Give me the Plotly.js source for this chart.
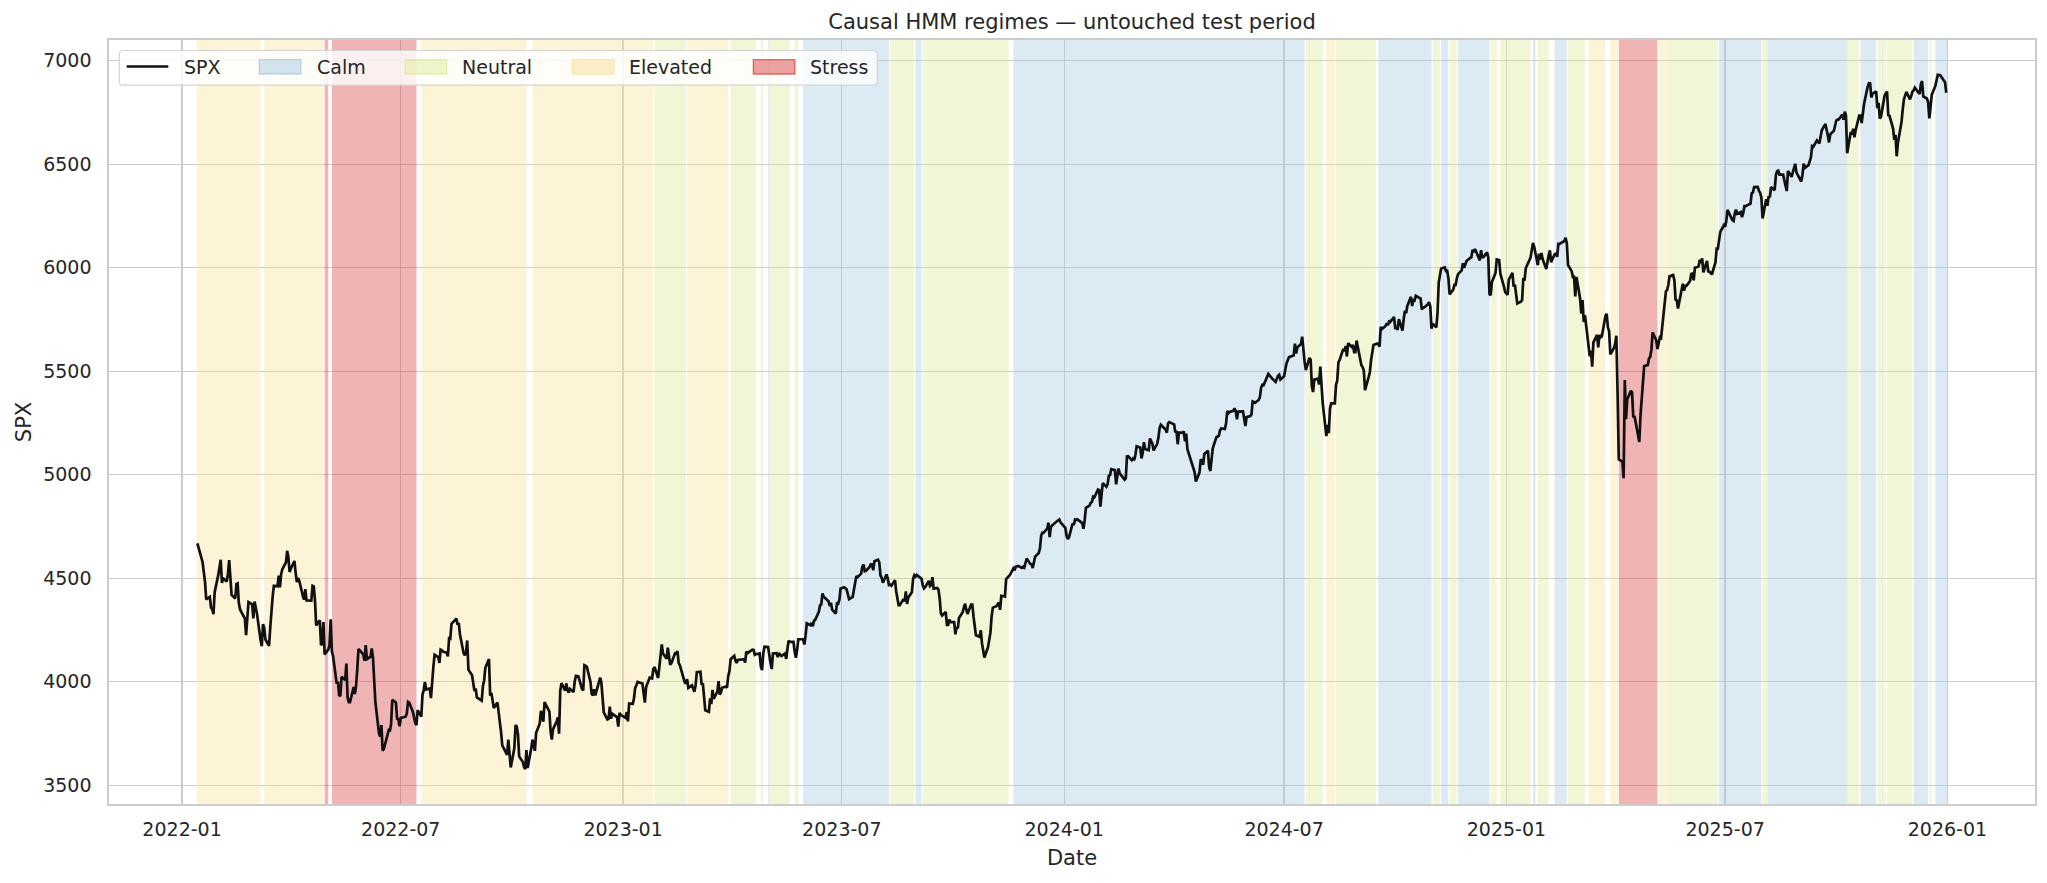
<!DOCTYPE html>
<html><head><meta charset="utf-8">
<script src="https://cdn.plot.ly/plotly-3.0.1.min.js"></script>
<style>html,body{margin:0;padding:0;background:#fff;}#chart{width:2047px;height:883px;}</style>
</head><body><div id="chart"></div>
<script>
// SPX closes, [MM-DD, value] per year
const spx2022 = [['01-13',4659],['01-14',4662],['01-18',4577],['01-19',4533],['01-20',4483],['01-21',4398],['01-24',4410],['01-25',4357],['01-26',4350],['01-27',4326],['01-28',4432],['01-31',4516],['02-01',4546],['02-02',4589],['02-03',4477],['02-04',4500],['02-07',4484],['02-08',4522],['02-09',4587],['02-10',4504],['02-11',4419],['02-14',4402],['02-15',4472],['02-16',4475],['02-17',4380],['02-18',4349],['02-22',4305],['02-23',4225],['02-24',4288],['02-25',4385],['02-28',4374],['03-01',4306],['03-02',4387],['03-03',4364],['03-04',4329],['03-07',4201],['03-08',4171],['03-09',4278],['03-10',4260],['03-11',4204],['03-14',4173],['03-15',4262],['03-16',4358],['03-17',4412],['03-18',4463],['03-21',4461],['03-22',4512],['03-23',4456],['03-24',4520],['03-25',4543],['03-28',4576],['03-29',4632],['03-30',4602],['03-31',4530],['04-01',4546],['04-04',4583],['04-05',4526],['04-06',4481],['04-07',4501],['04-08',4488],['04-11',4413],['04-12',4397],['04-13',4447],['04-14',4393],['04-18',4392],['04-19',4463],['04-20',4460],['04-21',4394],['04-22',4272],['04-25',4297],['04-26',4176],['04-27',4184],['04-28',4288],['04-29',4132],['05-02',4155],['05-03',4175],['05-04',4301],['05-05',4147],['05-06',4123],['05-09',3991],['05-10',4001],['05-11',3935],['05-12',3930],['05-13',4024],['05-16',4008],['05-17',4088],['05-18',3924],['05-19',3901],['05-20',3901],['05-23',3974],['05-24',3941],['05-25',3979],['05-26',4058],['05-27',4158],['05-31',4132],['06-01',4101],['06-02',4177],['06-03',4109],['06-06',4121],['06-07',4161],['06-08',4116],['06-09',4018],['06-10',3901],['06-13',3750],['06-14',3735],['06-15',3790],['06-16',3667],['06-17',3675],['06-21',3765],['06-22',3760],['06-23',3796],['06-24',3912],['06-27',3900],['06-28',3821],['06-29',3819],['06-30',3785],['07-01',3825],['07-05',3831],['07-06',3845],['07-07',3903],['07-08',3899],['07-11',3855],['07-12',3819],['07-13',3802],['07-14',3790],['07-15',3863],['07-18',3831],['07-19',3937],['07-20',3960],['07-21',3999],['07-22',3962],['07-25',3967],['07-26',3921],['07-27',4024],['07-28',4073],['07-29',4130],['08-01',4119],['08-02',4091],['08-03',4155],['08-04',4152],['08-05',4145],['08-08',4140],['08-09',4122],['08-10',4210],['08-11',4208],['08-12',4280],['08-15',4297],['08-16',4305],['08-17',4275],['08-18',4284],['08-19',4228],['08-22',4138],['08-23',4128],['08-24',4141],['08-25',4199],['08-26',4058],['08-29',4031],['08-30',3986],['08-31',3955],['09-01',3967],['09-02',3924],['09-06',3909],['09-07',3980],['09-08',4006],['09-09',4067],['09-12',4110],['09-13',3932],['09-14',3946],['09-15',3901],['09-16',3873],['09-19',3900],['09-20',3856],['09-21',3790],['09-22',3758],['09-23',3693],['09-26',3655],['09-27',3647],['09-28',3720],['09-29',3640],['09-30',3586],['10-03',3678],['10-04',3791],['10-05',3783],['10-06',3745],['10-07',3639],['10-10',3612],['10-11',3589],['10-12',3577],['10-13',3670],['10-14',3583],['10-17',3678],['10-18',3720],['10-19',3695],['10-20',3666],['10-21',3752],['10-24',3797],['10-25',3859],['10-26',3831],['10-27',3807],['10-28',3901],['10-31',3872],['11-01',3856],['11-02',3760],['11-03',3720],['11-04',3771],['11-07',3807],['11-08',3828],['11-09',3749],['11-10',3956],['11-11',3993],['11-14',3957],['11-15',3992],['11-16',3959],['11-17',3947],['11-18',3965],['11-21',3950],['11-22',4003],['11-23',4028],['11-25',4026],['11-28',3964],['11-29',3958],['11-30',4080],['12-01',4077],['12-02',4072],['12-05',3999],['12-06',3941],['12-07',3933],['12-08',3964],['12-09',3934],['12-12',3991],['12-13',4020],['12-14',3996],['12-15',3896],['12-16',3852],['12-19',3818],['12-20',3821],['12-21',3879],['12-22',3822],['12-23',3845],['12-27',3829],['12-28',3783],['12-29',3849],['12-30',3840]];
const spx2023 = [['01-03',3825],['01-04',3853],['01-05',3808],['01-06',3895],['01-09',3893],['01-10',3919],['01-11',3970],['01-12',3983],['01-13',3999],['01-17',3991],['01-18',3929],['01-19',3899],['01-20',3973],['01-23',4020],['01-24',4017],['01-25',4016],['01-26',4060],['01-27',4071],['01-30',4018],['01-31',4077],['02-01',4119],['02-02',4180],['02-03',4136],['02-06',4111],['02-07',4164],['02-08',4118],['02-09',4082],['02-10',4090],['02-13',4137],['02-14',4136],['02-15',4148],['02-16',4090],['02-17',4079],['02-21',3997],['02-22',3991],['02-23',4012],['02-24',3970],['02-27',3982],['02-28',3970],['03-01',3951],['03-02',3982],['03-03',4046],['03-06',4048],['03-07',3986],['03-08',3992],['03-09',3919],['03-10',3862],['03-13',3855],['03-14',3920],['03-15',3892],['03-16',3960],['03-17',3917],['03-20',3952],['03-21',4003],['03-22',3937],['03-23',3949],['03-24',3971],['03-27',3977],['03-28',3971],['03-29',4027],['03-30',4051],['03-31',4109],['04-03',4125],['04-04',4101],['04-05',4091],['04-06',4105],['04-10',4110],['04-11',4109],['04-12',4092],['04-13',4146],['04-14',4138],['04-17',4152],['04-18',4155],['04-19',4154],['04-20',4130],['04-21',4133],['04-24',4137],['04-25',4072],['04-26',4056],['04-27',4136],['04-28',4169],['05-01',4168],['05-02',4120],['05-03',4091],['05-04',4061],['05-05',4136],['05-08',4138],['05-09',4119],['05-10',4138],['05-11',4131],['05-12',4124],['05-15',4136],['05-16',4110],['05-17',4159],['05-18',4198],['05-19',4192],['05-22',4192],['05-23',4146],['05-24',4116],['05-25',4151],['05-26',4205],['05-30',4206],['05-31',4180],['06-01',4221],['06-02',4282],['06-05',4273],['06-06',4284],['06-07',4268],['06-08',4294],['06-09',4299],['06-12',4338],['06-13',4369],['06-14',4373],['06-15',4426],['06-16',4410],['06-20',4389],['06-21',4366],['06-22',4381],['06-23',4348],['06-26',4329],['06-27',4378],['06-28',4377],['06-29',4396],['06-30',4450],['07-03',4456],['07-05',4446],['07-06',4412],['07-07',4399],['07-10',4410],['07-11',4439],['07-12',4472],['07-13',4510],['07-14',4505],['07-17',4522],['07-18',4555],['07-19',4566],['07-20',4534],['07-21',4536],['07-24',4554],['07-25',4567],['07-26',4566],['07-27',4538],['07-28',4582],['07-31',4589],['08-01',4577],['08-02',4513],['08-03',4502],['08-04',4478],['08-07',4518],['08-08',4499],['08-09',4467],['08-10',4469],['08-11',4464],['08-14',4490],['08-15',4437],['08-16',4404],['08-17',4370],['08-18',4370],['08-21',4399],['08-22',4388],['08-23',4436],['08-24',4376],['08-25',4406],['08-28',4433],['08-29',4497],['08-30',4514],['08-31',4508],['09-01',4516],['09-05',4497],['09-06',4465],['09-07',4451],['09-08',4457],['09-11',4487],['09-12',4462],['09-13',4467],['09-14',4505],['09-15',4450],['09-18',4453],['09-19',4444],['09-20',4402],['09-21',4330],['09-22',4320],['09-25',4337],['09-26',4274],['09-27',4274],['09-28',4300],['09-29',4288],['10-02',4288],['10-03',4229],['10-04',4263],['10-05',4258],['10-06',4308],['10-09',4336],['10-10',4358],['10-11',4377],['10-12',4349],['10-13',4327],['10-16',4373],['10-17',4373],['10-18',4315],['10-19',4278],['10-20',4224],['10-23',4217],['10-24',4248],['10-25',4186],['10-26',4137],['10-27',4117],['10-30',4167],['10-31',4194],['11-01',4238],['11-02',4317],['11-03',4358],['11-06',4365],['11-07',4378],['11-08',4383],['11-09',4347],['11-10',4415],['11-13',4411],['11-14',4496],['11-15',4502],['11-16',4508],['11-17',4514],['11-20',4547],['11-21',4538],['11-22',4556],['11-24',4559],['11-27',4550],['11-28',4555],['11-29',4551],['11-30',4568],['12-01',4595],['12-04',4569],['12-05',4567],['12-06',4549],['12-07',4585],['12-08',4604],['12-11',4622],['12-12',4644],['12-13',4707],['12-14',4720],['12-15',4719],['12-18',4740],['12-19',4768],['12-20',4698],['12-21',4747],['12-22',4755],['12-26',4775],['12-27',4781],['12-28',4783],['12-29',4770]];
const spx2024 = [['01-02',4743],['01-03',4705],['01-04',4689],['01-05',4697],['01-08',4764],['01-09',4757],['01-10',4783],['01-11',4781],['01-12',4784],['01-16',4766],['01-17',4739],['01-18',4780],['01-19',4840],['01-22',4851],['01-23',4865],['01-24',4869],['01-25',4894],['01-26',4891],['01-29',4928],['01-30',4925],['01-31',4846],['02-01',4906],['02-02',4959],['02-05',4942],['02-06',4954],['02-07',4995],['02-08',4998],['02-09',5027],['02-12',5022],['02-13',4953],['02-14',5001],['02-15',5030],['02-16',5006],['02-20',4976],['02-21',4982],['02-22',5088],['02-23',5089],['02-26',5070],['02-27',5078],['02-28',5070],['02-29',5096],['03-01',5137],['03-04',5131],['03-05',5079],['03-06',5105],['03-07',5157],['03-08',5124],['03-11',5118],['03-12',5175],['03-13',5165],['03-14',5150],['03-15',5117],['03-18',5149],['03-19',5178],['03-20',5225],['03-21',5241],['03-22',5234],['03-25',5218],['03-26',5203],['03-27',5248],['03-28',5254],['04-01',5243],['04-02',5205],['04-03',5211],['04-04',5147],['04-05',5204],['04-08',5202],['04-09',5209],['04-10',5161],['04-11',5199],['04-12',5123],['04-15',5061],['04-16',5051],['04-17',5022],['04-18',5011],['04-19',4967],['04-22',5010],['04-23',5070],['04-24',5071],['04-25',5048],['04-26',5100],['04-29',5116],['04-30',5036],['05-01',5018],['05-02',5064],['05-03',5128],['05-06',5181],['05-07',5187],['05-08',5188],['05-09',5214],['05-10',5223],['05-13',5221],['05-14',5247],['05-15',5308],['05-16',5297],['05-17',5303],['05-20',5308],['05-21',5321],['05-22',5307],['05-23',5268],['05-24',5305],['05-28',5306],['05-29',5267],['05-30',5235],['05-31',5278],['06-03',5283],['06-04',5291],['06-05',5354],['06-06',5352],['06-07',5347],['06-10',5361],['06-11',5375],['06-12',5421],['06-13',5434],['06-14',5432],['06-17',5473],['06-18',5487],['06-20',5473],['06-21',5465],['06-24',5448],['06-25',5469],['06-26',5478],['06-27',5483],['06-28',5460],['07-01',5475],['07-02',5509],['07-03',5537],['07-05',5567],['07-08',5572],['07-09',5577],['07-10',5633],['07-11',5585],['07-12',5615],['07-15',5631],['07-16',5667],['07-17',5589],['07-18',5545],['07-19',5505],['07-22',5564],['07-23',5555],['07-24',5427],['07-25',5399],['07-26',5459],['07-29',5464],['07-30',5436],['07-31',5522],['08-01',5446],['08-02',5346],['08-05',5186],['08-06',5240],['08-07',5200],['08-08',5319],['08-09',5344],['08-12',5344],['08-13',5434],['08-14',5455],['08-15',5543],['08-16',5554],['08-19',5608],['08-20',5597],['08-21',5621],['08-22',5571],['08-23',5635],['08-26',5617],['08-27',5626],['08-28',5592],['08-29',5592],['08-30',5648],['09-03',5529],['09-04',5520],['09-05',5503],['09-06',5408],['09-09',5471],['09-10',5496],['09-11',5554],['09-12',5596],['09-13',5626],['09-16',5633],['09-17',5634],['09-18',5618],['09-19',5714],['09-20',5703],['09-23',5718],['09-24',5732],['09-25',5722],['09-26',5745],['09-27',5738],['09-30',5762],['10-01',5709],['10-02',5710],['10-03',5700],['10-04',5751],['10-07',5696],['10-08',5751],['10-09',5792],['10-10',5780],['10-11',5815],['10-14',5859],['10-15',5815],['10-16',5843],['10-17',5841],['10-18',5864],['10-21',5853],['10-22',5851],['10-23',5797],['10-24',5809],['10-25',5808],['10-28',5823],['10-29',5833],['10-30',5813],['10-31',5705],['11-01',5729],['11-04',5712],['11-05',5782],['11-06',5929],['11-07',5973],['11-08',5996],['11-11',6001],['11-12',5984],['11-13',5985],['11-14',5949],['11-15',5871],['11-18',5894],['11-19',5917],['11-20',5917],['11-21',5949],['11-22',5969],['11-25',5987],['11-26',6021],['11-27',5999],['11-29',6032],['12-02',6047],['12-03',6050],['12-04',6087],['12-05',6075],['12-06',6090],['12-09',6053],['12-10',6035],['12-11',6084],['12-12',6051],['12-13',6051],['12-16',6074],['12-17',6050],['12-18',5872],['12-19',5867],['12-20',5931],['12-23',5975],['12-24',6040],['12-26',6037],['12-27',5971],['12-30',5907],['12-31',5882]];
const spx2025 = [['01-02',5869],['01-03',5942],['01-06',5975],['01-07',5909],['01-08',5918],['01-10',5827],['01-13',5836],['01-14',5843],['01-15',5950],['01-16',5937],['01-17',5997],['01-21',6049],['01-22',6086],['01-23',6119],['01-24',6101],['01-27',6012],['01-28',6068],['01-29',6039],['01-30',6071],['01-31',6041],['02-03',5994],['02-04',6038],['02-05',6061],['02-06',6084],['02-07',6026],['02-10',6066],['02-11',6068],['02-12',6052],['02-13',6115],['02-14',6115],['02-18',6129],['02-19',6144],['02-20',6118],['02-21',6013],['02-24',5983],['02-25',5955],['02-26',5956],['02-27',5861],['02-28',5955],['03-03',5850],['03-04',5778],['03-05',5843],['03-06',5738],['03-07',5770],['03-10',5615],['03-11',5572],['03-12',5599],['03-13',5522],['03-14',5639],['03-17',5675],['03-18',5615],['03-19',5675],['03-20',5663],['03-21',5668],['03-24',5768],['03-25',5777],['03-26',5712],['03-27',5693],['03-28',5581],['03-31',5612],['04-01',5633],['04-02',5671],['04-03',5397],['04-04',5074],['04-07',5062],['04-08',4983],['04-09',5457],['04-10',5268],['04-11',5363],['04-14',5406],['04-15',5397],['04-16',5276],['04-17',5283],['04-21',5158],['04-22',5288],['04-23',5376],['04-24',5485],['04-25',5525],['04-28',5529],['04-29',5561],['04-30',5569],['05-01',5604],['05-02',5687],['05-05',5650],['05-06',5607],['05-07',5631],['05-08',5664],['05-09',5660],['05-12',5844],['05-13',5886],['05-14',5892],['05-15',5916],['05-16',5958],['05-19',5964],['05-20',5940],['05-21',5845],['05-22',5842],['05-23',5803],['05-27',5922],['05-28',5889],['05-29',5912],['05-30',5912],['06-02',5936],['06-03',5970],['06-04',5971],['06-05',5939],['06-06',6000],['06-09',6006],['06-10',6038],['06-11',6022],['06-12',6045],['06-13',5977],['06-16',6033],['06-17',5982],['06-18',5981],['06-20',5967],['06-23',6025],['06-24',6092],['06-25',6092],['06-26',6141],['06-27',6173],['06-30',6205],['07-01',6198],['07-02',6227],['07-03',6279],['07-07',6230],['07-08',6226],['07-09',6263],['07-10',6280],['07-11',6260],['07-14',6269],['07-15',6244],['07-16',6264],['07-17',6297],['07-18',6297],['07-21',6306],['07-22',6309],['07-23',6359],['07-24',6363],['07-25',6389],['07-28',6390],['07-29',6371],['07-30',6362],['07-31',6339],['08-01',6238],['08-04',6330],['08-05',6299],['08-06',6345],['08-07',6340],['08-08',6389],['08-11',6374],['08-12',6446],['08-13',6466],['08-14',6469],['08-15',6449],['08-18',6449],['08-19',6412],['08-20',6396],['08-21',6370],['08-22',6467],['08-25',6439],['08-26',6466],['08-27',6481],['08-28',6502],['08-29',6460],['09-02',6416],['09-03',6448],['09-04',6502],['09-05',6482],['09-08',6495],['09-09',6512],['09-10',6532],['09-11',6587],['09-12',6584],['09-15',6615],['09-16',6607],['09-17',6600],['09-18',6632],['09-19',6664],['09-22',6694],['09-23',6656],['09-24',6638],['09-25',6605],['09-26',6644],['09-29',6661],['09-30',6688],['10-01',6711],['10-02',6715],['10-03',6716],['10-06',6740],['10-07',6715],['10-08',6753],['10-09',6735],['10-10',6553],['10-13',6655],['10-14',6644],['10-15',6671],['10-16',6630],['10-17',6664],['10-20',6735],['10-21',6735],['10-22',6699],['10-23',6738],['10-24',6792],['10-27',6875],['10-28',6891],['10-29',6890],['10-30',6822],['10-31',6840],['11-03',6852],['11-04',6771],['11-05',6796],['11-06',6720],['11-07',6729],['11-10',6832],['11-11',6846],['11-12',6851],['11-13',6737],['11-14',6734],['11-17',6672],['11-18',6617],['11-19',6642],['11-20',6538],['11-21',6603],['11-24',6705],['11-25',6766],['11-26',6813],['11-28',6849],['12-01',6813],['12-02',6829],['12-03',6850],['12-04',6857],['12-05',6870],['12-08',6846],['12-09',6840],['12-10',6887],['12-11',6901],['12-12',6827],['12-15',6817],['12-16',6800],['12-17',6721],['12-18',6775],['12-19',6835],['12-22',6878],['12-23',6910],['12-24',6932],['12-26',6930],['12-29',6905],['12-30',6896],['12-31',6845]];

// Regime periods (C=Calm, N=Neutral, E=Elevated, S=Stress)
const spanStart  = ['2022-01-13','2022-03-10','2022-04-29','2022-05-05','2022-07-18','2022-10-18','2023-01-27','2023-02-23','2023-03-31','2023-04-25','2023-05-01','2023-05-02','2023-05-23','2023-05-30','2023-08-10','2023-08-31','2023-09-06','2023-11-20','2024-07-19','2024-08-05','2024-08-13','2024-09-17','2024-11-01','2024-11-08','2024-11-15','2024-11-22','2024-12-19','2024-12-27','2025-01-23','2025-01-27','2025-02-10','2025-02-21','2025-03-10','2025-03-28','2025-04-04','2025-05-07','2025-05-14','2025-06-26','2025-08-01','2025-08-05','2025-10-10','2025-10-21','2025-11-04','2025-11-12','2025-12-04','2025-12-17','2025-12-22'];
const spanEnd    = ['2022-03-07','2022-04-28','2022-05-02','2022-07-14','2022-10-13','2023-01-26','2023-02-22','2023-03-29','2023-04-21','2023-04-27','2023-05-02','2023-05-19','2023-05-26','2023-08-09','2023-08-30','2023-09-05','2023-11-16','2024-07-18','2024-08-02','2024-08-12','2024-09-15','2024-10-31','2024-11-07','2024-11-14','2024-11-21','2024-12-18','2024-12-24','2025-01-21','2025-01-25','2025-02-05','2025-02-20','2025-03-07','2025-03-24','2025-04-03','2025-05-06','2025-05-14','2025-06-25','2025-07-31','2025-08-05','2025-10-10','2025-10-20','2025-11-03','2025-11-11','2025-12-03','2025-12-16','2025-12-19','2026-01-01'];
const spanRegime = ['E','E','S','S','E','E','N','E','N','N','C','N','N','C','N','C','N','C','N','E','N','C','N','C','N','C','N','N','C','N','C','N','E','E','S','E','N','C','N','C','N','C','N','N','C','N','C'];

const regimeKeys   = ['C','N','E','S'];
const regimeNames  = ['Calm','Neutral','Elevated','Stress'];
const regimeRGB    = ['167,202,225','220,235,152','250,225,152','217,67,67'];

const xTickVals = ['2022-01-01','2022-07-01','2023-01-01','2023-07-01','2024-01-01','2024-07-01','2025-01-01','2025-07-01','2026-01-01'];
const xTickText = ['2022-01','2022-07','2023-01','2023-07','2024-01','2024-07','2025-01','2025-07','2026-01'];
const yTickVals = [3500,4000,4500,5000,5500,6000,6500,7000];

// build series
const years = {2022:spx2022, 2023:spx2023, 2024:spx2024, 2025:spx2025};
const dates = [], values = [];
Object.keys(years).forEach(y => years[y].forEach(p => { dates.push(y + '-' + p[0]); values.push(p[1]); }));

// axis limits with 5% padding like matplotlib
const vmin = Math.min(...values), vmax = Math.max(...values);
const pad = (vmax - vmin) * 0.05;
const yLo = vmin - pad, yHi = vmax + pad;
const t0 = Date.parse(spanStart[0]), t1 = Date.parse(spanEnd[spanEnd.length-1]);
const tp = (t1 - t0) * 0.05;
const xLo = new Date(t0 - tp).toISOString().slice(0,19).replace('T',' ');
const xHi = new Date(t1 + tp).toISOString().slice(0,19).replace('T',' ');

const traces = [];
regimeKeys.forEach((k, ri) => {
  const xs = [], ys = [];
  for (let i = 0; i < spanRegime.length; i++) {
    if (spanRegime[i] !== k) continue;
    xs.push(spanStart[i], spanStart[i], spanEnd[i], spanEnd[i], spanStart[i], null);
    ys.push(yLo, yHi, yHi, yLo, yLo, null);
  }
  traces.push({
    x: xs, y: ys, type: 'scatter', mode: 'lines', fill: 'toself',
    fillcolor: 'rgba(' + regimeRGB[ri] + ',0.4)', line: {width: 0},
    name: regimeNames[ri], hoverinfo: 'skip', showlegend: false
  });
});
traces.push({
  x: dates, y: values, type: 'scatter', mode: 'lines', name: 'SPX',
  line: {color: '#111111', width: 2.7}, showlegend: false
});

// --- legend drawn in pixel coordinates converted to paper units ---
const M = {l: 109, r: 12, t: 40, b: 79}, W = 2047, H = 883;
const PW = W - M.l - M.r, PH = H - M.t - M.b;
const px = X => (X - M.l) / PW;
const py = Y => (H - M.b - Y) / PH;
const txtColor = '#262626';
const fam = 'DejaVu Sans, sans-serif';

function roundRect(x0, y0, x1, y1, r) {
  const a = px(x0), b = px(x1), c = py(y0), d = py(y1);
  const rx = r / PW, ry = r / PH;
  return 'M' + (a+rx) + ',' + c + ' L' + (b-rx) + ',' + c + ' Q' + b + ',' + c + ' ' + b + ',' + (c-ry) +
         ' L' + b + ',' + (d+ry) + ' Q' + b + ',' + d + ' ' + (b-rx) + ',' + d +
         ' L' + (a+rx) + ',' + d + ' Q' + a + ',' + d + ' ' + a + ',' + (d+ry) +
         ' L' + a + ',' + (c-ry) + ' Q' + a + ',' + c + ' ' + (a+rx) + ',' + c + ' Z';
}

const legendLabels = ['SPX'].concat(regimeNames);
const handleX = [126.7, 259.3, 405.2, 572.4, 753.4];
const textX   = [183.3, 316.0, 460.8, 628.2, 809.4];
const legY = 66.5;

const shapes = [{
  type: 'path', xref: 'paper', yref: 'paper', layer: 'above',
  path: roundRect(119.3, 50.5, 877.2, 85.2, 4),
  fillcolor: 'rgba(255,255,255,0.8)', line: {color: '#d4d4d4', width: 1.2}
}, {
  type: 'line', xref: 'paper', yref: 'paper', layer: 'above',
  x0: px(handleX[0]), x1: px(handleX[0] + 41.6), y0: py(legY), y1: py(legY),
  line: {color: '#111111', width: 2.7}
}];
regimeRGB.forEach((rgb, i) => {
  shapes.push({
    type: 'rect', xref: 'paper', yref: 'paper', layer: 'above',
    x0: px(handleX[i+1]), x1: px(handleX[i+1] + 41.4), y0: py(59.6), y1: py(74),
    fillcolor: 'rgba(' + rgb + ',0.5)', line: {color: 'rgba(' + rgb + ',0.75)', width: 1.4}
  });
});
const annotations = legendLabels.map((t, i) => ({
  text: t, xref: 'paper', yref: 'paper', x: px(textX[i] - 1), y: py(legY),
  xanchor: 'left', yanchor: 'middle', showarrow: false,
  font: {family: fam, size: 19, color: txtColor}
}));

const tickFont = {family: fam, color: txtColor, size: 19};
const labFont = {family: fam, color: txtColor, size: 21};
const layout = {
  width: W, height: H, margin: M,
  paper_bgcolor: '#ffffff', plot_bgcolor: '#ffffff',
  font: tickFont, showlegend: false,
  title: {text: 'Causal HMM regimes — untouched test period', font: labFont,
          x: 0.5, xref: 'paper', xanchor: 'center', y: 1 - 22/883, yref: 'container', yanchor: 'middle'},
  xaxis: {
    type: 'date', range: [xLo, xHi], tickvals: xTickVals, ticktext: xTickText,
    showgrid: true, gridcolor: '#cccccc', gridwidth: 1.3, zeroline: false,
    showline: true, mirror: true, linecolor: '#cccccc', linewidth: 1.7,
    ticks: '', ticklabelstandoff: 7, tickfont: tickFont,
    title: {text: 'Date', font: labFont, standoff: 12},
    automargin: false
  },
  yaxis: {
    range: [yLo, yHi], tickvals: yTickVals, ticktext: yTickVals.map(String),
    showgrid: true, gridcolor: '#cccccc', gridwidth: 1.3, zeroline: false,
    showline: true, mirror: true, linecolor: '#cccccc', linewidth: 1.7,
    ticks: '', ticklabelstandoff: 12, tickfont: tickFont,
    title: {text: 'SPX', font: labFont, standoff: 6},
    automargin: false
  },
  shapes: shapes,
  annotations: annotations
};

Plotly.newPlot('chart', traces, layout, {displayModeBar: false, staticPlot: true});
</script>
</body></html>
